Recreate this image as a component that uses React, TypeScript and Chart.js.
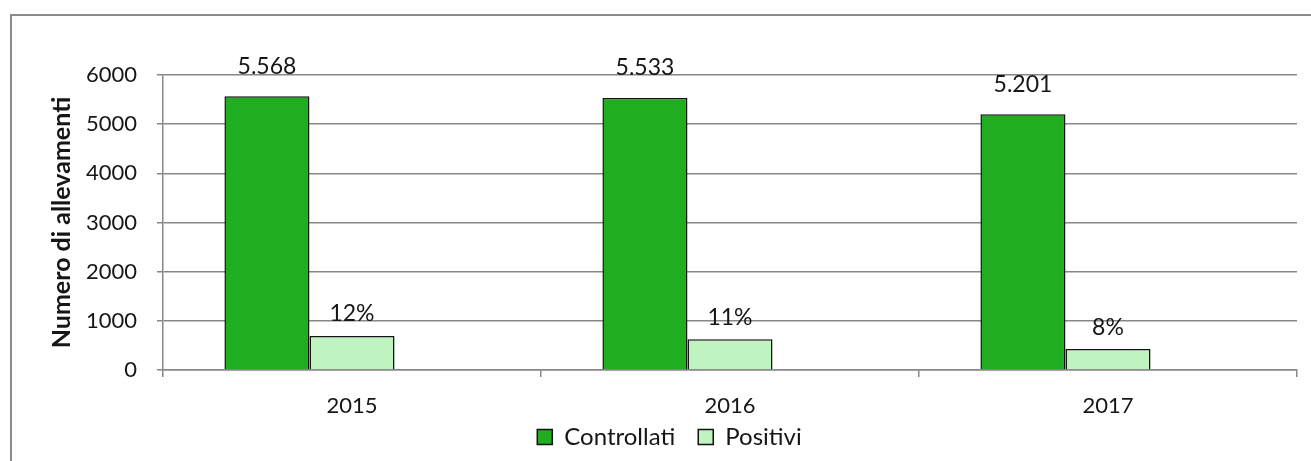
import React, { useEffect, useRef } from "react";
import { Chart, registerables } from "chart.js";

Chart.register(...registerables);

const years = ["2015", "2016", "2017"];
const controllati = [5568, 5533, 5201];
const positivi = [690, 625, 425];
const positiviPct = [12, 11, 8];
const percentuale: (number | null)[] = [null, null, null];
const yTicks = [0, 1000, 2000, 3000, 4000, 5000, 6000];

const FONT = "Lato";
const GRID = "#878787";
const TEXT = "#161616";

function fmtIt(n: number): string {
  const s = String(Math.round(n));
  return s.replace(/\B(?=(\d{3})+(?!\d))/g, ".");
}

const labelPlugin = {
  id: "valueLabels",
  afterDatasetsDraw(chart: any) {
    const ctx = chart.ctx;
    ctx.save();
    ctx.font = `23px ${FONT}`;
    ctx.fillStyle = TEXT;
    ctx.textAlign = "center";
    ctx.textBaseline = "middle";
    const m0 = chart.getDatasetMeta(0);
    m0.data.forEach((bar: any, i: number) => {
      ctx.fillText(fmtIt(controllati[i]), bar.x, bar.y - 30);
    });
    const m1 = chart.getDatasetMeta(1);
    m1.data.forEach((bar: any, i: number) => {
      ctx.fillText(positiviPct[i] + "%", bar.x, bar.y - 22);
    });
    ctx.restore();
  },
};

export default function App() {
  const ref = useRef<HTMLCanvasElement | null>(null);
  useEffect(() => {
    if (!ref.current) return;
    const chart = new Chart(ref.current, {
      type: "bar",
      data: {
        labels: years,
        datasets: [
          {
            label: "Controllati",
            data: controllati,
            backgroundColor: "#20ae20",
            borderColor: "#111111",
            borderWidth: 1.5,
            categoryPercentage: 0.675,
            barPercentage: 1,
          },
          {
            label: "Positivi",
            data: positivi,
            backgroundColor: "#bff3bf",
            borderColor: "#111111",
            borderWidth: 1.5,
            categoryPercentage: 0.675,
            barPercentage: 1,
          },
          {
            label: "%",
            data: percentuale,
            backgroundColor: "rgba(0,0,0,0)",
            borderWidth: 0,
            categoryPercentage: 0.675,
            barPercentage: 1,
          },
        ],
      },
      options: {
        responsive: false,
        animation: false,
        layout: { padding: { left: 30, top: 59, right: 14, bottom: 2 } },
        plugins: {
          tooltip: { enabled: false },
          legend: {
            position: "bottom",
            labels: {
              boxWidth: 15,
              boxHeight: 15,
              padding: 8,
              color: TEXT,
              font: { family: FONT, size: 24 },
              generateLabels: (chart: any) => {
                const items = Chart.defaults.plugins.legend.labels.generateLabels(chart);
                return items
                  .filter((it: any) => it.datasetIndex < 2)
                  .map((it: any) => ({
                    ...it,
                    text: it.datasetIndex === 0 ? it.text + "\u2002\u2009" : it.text,
                  }));
              },
            },
          },
        },
        scales: {
          x: {
            afterFit: (s: any) => {
              s.height = 47;
            },
            grid: {
              display: true,
              offset: true,
              drawOnChartArea: false,
              drawTicks: true,
              tickLength: 7,
              color: GRID,
              lineWidth: 1.5,
            },
            border: { display: true, color: GRID, width: 1.5 },
            ticks: {
              color: TEXT,
              padding: 18,
              font: { family: FONT, size: 22, lineHeight: 1 },
            },
          },
          y: {
            min: 0,
            max: 6000,
            afterFit: (s: any) => {
              s.width = 121;
            },
            afterBuildTicks: (s: any) => {
              s.ticks = yTicks.map((v) => ({ value: v }));
            },
            grid: {
              color: GRID,
              lineWidth: 1.5,
              drawTicks: true,
              tickLength: 6,
            },
            border: { display: true, color: GRID, width: 1.5 },
            ticks: {
              color: TEXT,
              padding: 20,
              font: { family: FONT, size: 22 },
              callback: (v: any) => String(v),
            },
            title: {
              display: true,
              text: "Numero di allevamenti",
              color: TEXT,
              padding: { top: 5, bottom: 0 },
              font: { family: FONT, size: 25, weight: "bold" },
            },
          },
        },
      },
      plugins: [labelPlugin],
    });
    return () => chart.destroy();
  }, []);

  return (
    <div
      style={{
        position: "absolute",
        left: 10,
        top: 14,
        width: 1301,
        height: 447,
        boxSizing: "border-box",
        borderTop: "2px solid #8c8c8c",
        borderLeft: "2px solid #8c8c8c",
        background: "#ffffff",
        overflow: "hidden",
      }}
    >
      <canvas ref={ref} width={1299} height={445} style={{ display: "block" }} />
    </div>
  );
}
